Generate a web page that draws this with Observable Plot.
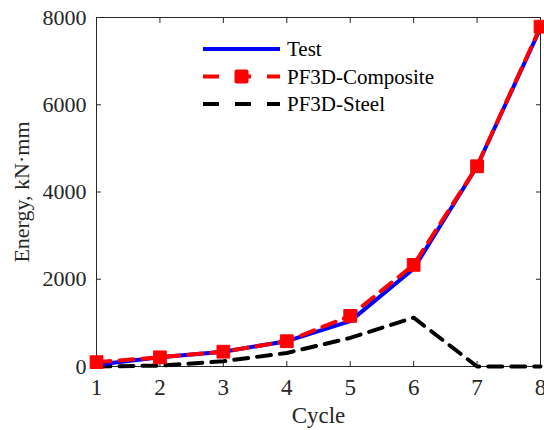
<!DOCTYPE html>
<html>
<head>
<meta charset="utf-8">
<script src="https://cdn.jsdelivr.net/npm/d3@7"></script>
<script src="https://cdn.jsdelivr.net/npm/@observablehq/plot@0.6"></script>
<style>
  html, body { margin: 0; padding: 0; background: #fff; }
  #wrap { position: relative; width: 544px; height: 430px; overflow: hidden; }
  #legend { position: absolute; left: 0; top: 0; }
  #wrap svg text { font-family: "Liberation Serif", "Times New Roman", serif; }
</style>
</head>
<body>
<div id="wrap"></div>
<script>
const cycles = [1, 2, 3, 4, 5, 6, 7, 8];
const testEnergy = [40, 210, 340, 580, 1040, 2240, 4590, 7760];
const compositeEnergy = [100, 210, 340, 580, 1160, 2330, 4590, 7790];
const steelEnergy = [0, 20, 120, 310, 655, 1120, 0, 0];
const seriesNames = ["Test", "PF3D-Composite", "PF3D-Steel"];
const yTicks = [0, 2000, 4000, 6000, 8000];

const test = cycles.map((c, i) => ({cycle: c, energy: testEnergy[i]}));
const composite = cycles.map((c, i) => ({cycle: c, energy: compositeEnergy[i]}));
const steel = cycles.map((c, i) => ({cycle: c, energy: steelEnergy[i]}));

const ink = "#262626";
const font = "Liberation Serif, Times New Roman, serif";

const chart = Plot.plot({
  width: 544,
  height: 430,
  marginLeft: 96,
  marginRight: 4,
  marginTop: 17,
  marginBottom: 64,
  style: {fontFamily: font, fontSize: "22px", color: ink, background: "#fff"},
  x: {domain: [1, 8]},
  y: {domain: [0, 8000]},
  marks: [
    Plot.frame({stroke: ink, strokeWidth: 1}),
    Plot.axisX(cycles, {anchor: "bottom", tickSize: -5, tickPadding: 17, stroke: ink, fill: ink,
      tickFormat: d3.format("d"), fontFamily: font,
      label: "Cycle", labelAnchor: "center", labelArrow: false, labelOffset: 56, fontSize: 23}),
    Plot.axisX(cycles, {anchor: "top", tickSize: -5, tickFormat: () => "", label: null, stroke: ink}),
    Plot.axisY(yTicks, {anchor: "left", tickSize: -5, tickPadding: 15, stroke: ink, fill: ink,
      tickFormat: d3.format("d"), fontFamily: font,
      label: "Energy, kN·mm", labelAnchor: "center", labelArrow: false, labelOffset: 83, fontSize: 22}),
    Plot.axisY(yTicks, {anchor: "right", tickSize: -5, tickFormat: () => "", label: null, stroke: ink}),
    Plot.line(steel, {x: "cycle", y: "energy", stroke: "#000", strokeWidth: 4, strokeDasharray: "14,9"}),
    Plot.line(test, {x: "cycle", y: "energy", stroke: "#0000ff", strokeWidth: 4}),
    Plot.line(composite, {x: "cycle", y: "energy", stroke: "#ff0000", strokeWidth: 4, strokeDasharray: "14,9"}),
    Plot.dot(composite, {x: "cycle", y: "energy", symbol: "square", r: 7.2, fill: "#ff0000", stroke: "#ff0000", strokeWidth: 1, strokeLinejoin: "round"})
  ]
});
document.getElementById("wrap").appendChild(chart);

// Legend (inside the plot area)
const ns = "http://www.w3.org/2000/svg";
const leg = document.createElementNS(ns, "svg");
leg.setAttribute("id", "legend");
leg.setAttribute("width", 544);
leg.setAttribute("height", 430);
const styles = [
  {color: "#0000ff", dash: null, marker: false},
  {color: "#ff0000", dash: "16,16", marker: true},
  {color: "#000000", dash: "16,16", marker: false}
];
seriesNames.forEach((name, i) => {
  const y = 49 + i * 27.5;
  const line = document.createElementNS(ns, "line");
  line.setAttribute("x1", 203); line.setAttribute("x2", 280);
  line.setAttribute("y1", y); line.setAttribute("y2", y);
  line.setAttribute("stroke", styles[i].color);
  line.setAttribute("stroke-width", 4);
  if (styles[i].dash) line.setAttribute("stroke-dasharray", styles[i].dash);
  leg.appendChild(line);
  if (styles[i].marker) {
    const r = document.createElementNS(ns, "rect");
    r.setAttribute("x", 234.5); r.setAttribute("y", y - 7);
    r.setAttribute("width", 14); r.setAttribute("height", 14);
    r.setAttribute("rx", 2);
    r.setAttribute("fill", styles[i].color);
    leg.appendChild(r);
  }
  const t = document.createElementNS(ns, "text");
  t.setAttribute("x", 287); t.setAttribute("y", y);
  t.setAttribute("dy", "0.35em");
  t.setAttribute("font-family", font);
  t.setAttribute("font-size", 21);
  t.setAttribute("fill", "#000");
  t.textContent = name;
  leg.appendChild(t);
});
document.getElementById("wrap").appendChild(leg);
</script>
</body>
</html>
